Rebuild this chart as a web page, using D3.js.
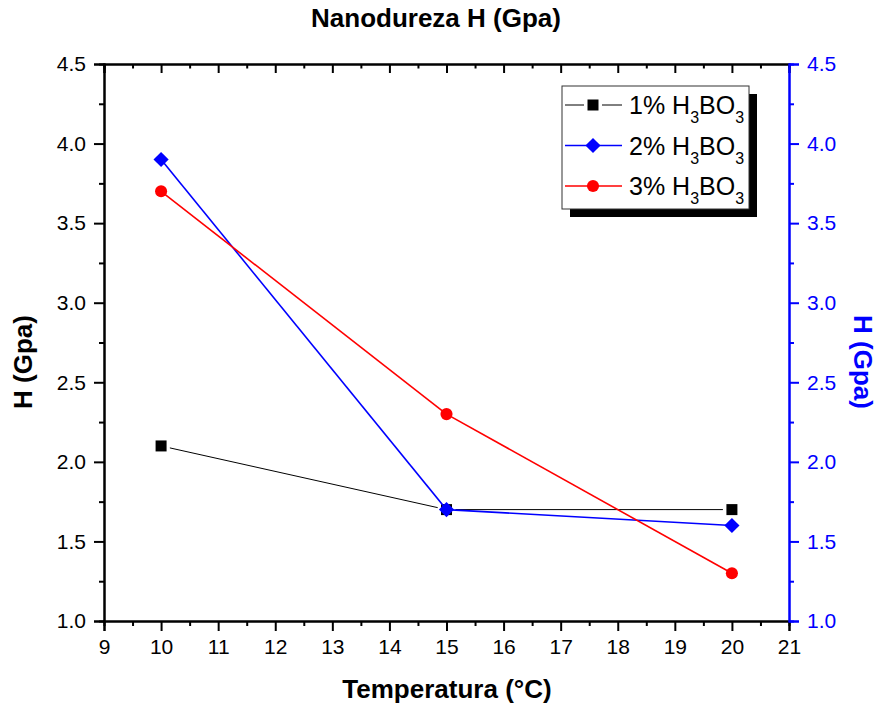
<!DOCTYPE html>
<html>
<head>
<meta charset="utf-8">
<script src="https://cdn.jsdelivr.net/npm/d3@7"></script>
<style>
  body { margin: 0; background: #fff; }
  svg { display: block; font-family: "Liberation Sans", Arial, sans-serif; }
</style>
</head>
<body>
<div id="chart"></div>
<script>
// temperatures (°C) and hardness (GPa) for each H3BO3 concentration
var temperaturas = [10, 15, 20];
var dureza1 = [2.1, 1.7, 1.7];
var dureza2 = [3.9, 1.7, 1.6];
var dureza3 = [3.7, 2.3, 1.3];
var concentraciones = ["1%", "2%", "3%"];

var xMajor = [9, 10, 11, 12, 13, 14, 15, 16, 17, 18, 19, 20, 21];
var yMajor = [1.0, 1.5, 2.0, 2.5, 3.0, 3.5, 4.0, 4.5];

var width = 880, height = 710;
var margin = {top: 64, right: 91, bottom: 89, left: 104};

var svg = d3.select("#chart").append("svg")
    .attr("width", width)
    .attr("height", height);

var x = d3.scaleLinear().domain([9, 21]).range([margin.left, width - margin.right]);
var y = d3.scaleLinear().domain([1, 4.5]).range([height - margin.bottom, margin.top]);

var xMinor = xMajor.slice(0, -1).map(function (d) { return d + 0.5; });
var yMinor = yMajor.slice(0, -1).map(function (d) { return d + 0.25; });

function styleAxis(g, color) {
    g.selectAll("path.domain").attr("stroke", color).attr("stroke-width", 2);
    g.selectAll(".tick line").attr("stroke", color).attr("stroke-width", 2);
    g.selectAll(".tick text").attr("fill", color).style("font-size", "21px")
        .style("font-family", "'Liberation Sans', Arial, sans-serif");
}

// minor ticks first, then majors with labels
function drawAxis(axisFn, scale, transform, major, minor, size, fmt, color) {
    var gMin = svg.append("g").attr("transform", transform)
        .call(axisFn(scale).tickValues(minor).tickSize(size / 2).tickFormat(""));
    styleAxis(gMin, color);
    var gMaj = svg.append("g").attr("transform", transform)
        .call(axisFn(scale).tickValues(major).tickSize(size).tickPadding(8).tickFormat(fmt));
    styleAxis(gMaj, color);
    return gMaj;
}

drawAxis(d3.axisBottom, x, "translate(0," + y(1) + ")", xMajor, xMinor, 10, d3.format("d"), "#000");
drawAxis(d3.axisTop, x, "translate(0," + y(4.5) + ")", xMajor, xMinor, -9, "", "#000");
drawAxis(d3.axisLeft, y, "translate(" + x(9) + ",0)", yMajor, yMinor, 10, d3.format(".1f"), "#000");
drawAxis(d3.axisRight, y, "translate(" + x(21) + ",0)", yMajor, yMinor, 10, d3.format(".1f"), "#0000ff");

// series styles
var series = [
    {name: concentraciones[0], values: dureza1, color: "#000", width: 1, symbol: d3.symbolSquare, size: 121, rot: 0, gap: 9},
    {name: concentraciones[1], values: dureza2, color: "#0000ff", width: 1.6, symbol: d3.symbolSquare, size: 115, rot: 45, gap: 0},
    {name: concentraciones[2], values: dureza3, color: "#ff0000", width: 1.6, symbol: d3.symbolCircle, size: 115, rot: 0, gap: 0}
];

series.forEach(function (s) {
    var pts = temperaturas.map(function (t, i) { return [x(t), y(s.values[i])]; });
    var g = svg.append("g");
    for (var i = 0; i < pts.length - 1; i++) {
        var p0 = pts[i], p1 = pts[i + 1];
        var dx = p1[0] - p0[0], dy = p1[1] - p0[1];
        var len = Math.sqrt(dx * dx + dy * dy);
        var ux = dx / len, uy = dy / len;
        g.append("line")
            .attr("x1", p0[0] + ux * s.gap).attr("y1", p0[1] + uy * s.gap)
            .attr("x2", p1[0] - ux * s.gap).attr("y2", p1[1] - uy * s.gap)
            .attr("stroke", s.color).attr("stroke-width", s.width);
    }
    g.selectAll("path.marker")
        .data(pts)
        .enter().append("path")
        .attr("class", "marker")
        .attr("transform", function (d) { return "translate(" + d[0] + "," + d[1] + ") rotate(" + s.rot + ")"; })
        .attr("d", d3.symbol().type(s.symbol).size(s.size))
        .attr("fill", s.color);
});

// legend with drop shadow
var lg = svg.append("g").attr("transform", "translate(562,86)");
lg.append("rect").attr("x", 8).attr("y", 8).attr("width", 187).attr("height", 123).attr("fill", "#000");
lg.append("rect").attr("x", 0).attr("y", 0).attr("width", 187).attr("height", 123)
    .attr("fill", "#fff").attr("stroke", "#333").attr("stroke-width", 1);

series.forEach(function (s, i) {
    var ry = 19 + i * 40.5;
    var row = lg.append("g").attr("transform", "translate(0," + ry + ")");
    if (s.gap) {
        row.append("line").attr("x1", 3).attr("x2", 22).attr("y1", 0).attr("y2", 0)
            .attr("stroke", s.color).attr("stroke-width", s.width);
        row.append("line").attr("x1", 40).attr("x2", 60).attr("y1", 0).attr("y2", 0)
            .attr("stroke", s.color).attr("stroke-width", s.width);
    } else {
        row.append("line").attr("x1", 3).attr("x2", 60).attr("y1", 0).attr("y2", 0)
            .attr("stroke", s.color).attr("stroke-width", s.width);
    }
    row.append("path").attr("transform", "translate(31,0) rotate(" + s.rot + ")")
        .attr("d", d3.symbol().type(s.symbol).size(s.size)).attr("fill", s.color);
    var t = row.append("text").attr("x", 67).attr("y", 9).style("font-size", "25px").attr("fill", "#000");
    t.append("tspan").text(s.name + " H");
    t.append("tspan").attr("dy", 9).style("font-size", "16px").text("3");
    t.append("tspan").attr("dy", -9).text("BO");
    t.append("tspan").attr("dy", 9).style("font-size", "16px").text("3");
});

// titles
svg.append("text").attr("x", 436).attr("y", 27).attr("text-anchor", "middle")
    .style("font-size", "26px").style("font-weight", "bold").text("Nanodureza H (Gpa)");

svg.append("text").attr("x", 447).attr("y", 698).attr("text-anchor", "middle")
    .style("font-size", "26px").style("font-weight", "bold").text("Temperatura (°C)");

svg.append("text").attr("transform", "translate(32,362) rotate(-90)").attr("text-anchor", "middle")
    .style("font-size", "26px").style("font-weight", "bold").text("H (Gpa)");

svg.append("text").attr("transform", "translate(854,362) rotate(90)").attr("text-anchor", "middle")
    .attr("fill", "#0000ff")
    .style("font-size", "26px").style("font-weight", "bold").text("H (Gpa)");
</script>
</body>
</html>
